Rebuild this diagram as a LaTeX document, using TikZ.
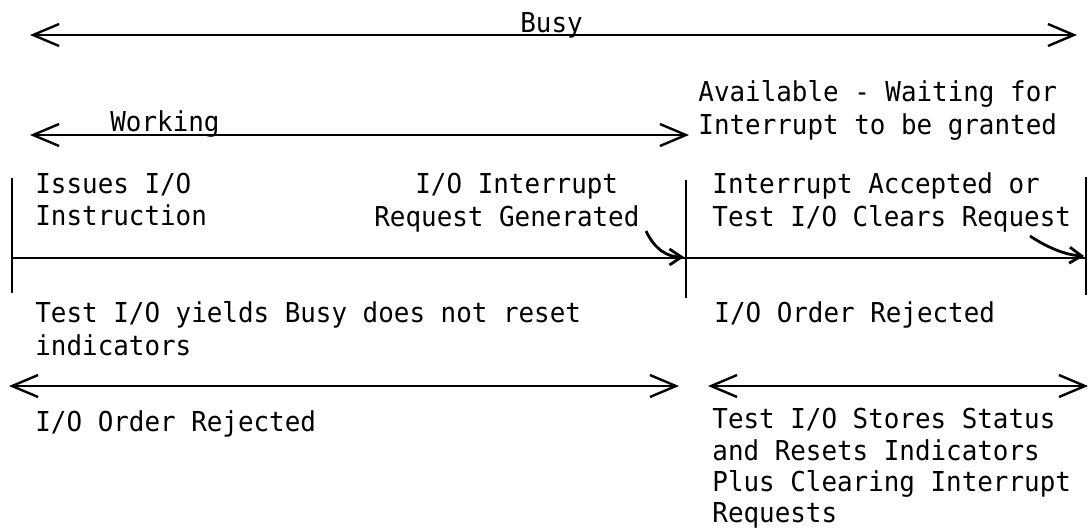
\documentclass[tikz,border=0pt]{standalone}
\usepackage{fontspec}
\usetikzlibrary{arrows.meta}
\newfontfamily\plotfont[FakeStretch=0.945]{DejaVu Sans Mono}
\tikzset{
  lbl/.style={anchor=base west, inner sep=0pt, font=\plotfont\fontsize{13.7pt}{16pt}\selectfont},
  ln/.style={line width=1.2pt},
  dbl/.style={line width=1.2pt, {Straight Barb[length=13pt,width=11pt,line width=1.2pt]}-{Straight Barb[length=13pt,width=11pt,line width=1.2pt]}},
  curv/.style={line width=1.4pt, -{Straight Barb[length=6pt,width=8pt,line width=1.4pt]}}
}
\begin{document}
\begin{tikzpicture}[x=0.5pt,y=-0.5pt]
\useasboundingbox (0,0) rectangle (1090,531);
% coordinates
\coordinate (busyL) at (30,35);
\coordinate (busyR) at (1077,35);
\coordinate (workL) at (30,135);
\coordinate (workR) at (689,135);
\coordinate (v1t) at (12,178);
\coordinate (v1b) at (12,293);
\coordinate (v2t) at (686,180);
\coordinate (v2b) at (686,298);
\coordinate (v3t) at (1086,177);
\coordinate (v3b) at (1086,295);
\coordinate (hL) at (12,258);
\coordinate (hR) at (1087,258);
\coordinate (c1s) at (646,231);
\coordinate (c1e) at (684,257);
\coordinate (c2s) at (1030,236);
\coordinate (c2e) at (1084,256);
\coordinate (bl1) at (9,386);
\coordinate (bl2) at (679,386);
\coordinate (br1) at (708,386);
\coordinate (br2) at (1088,386);
% lines
\draw[dbl] (busyL) -- (busyR);
\draw[dbl] (workL) -- (workR);
\draw[ln] (v1t) -- (v1b);
\draw[ln] (v2t) -- (v2b);
\draw[ln] (v3t) -- (v3b);
\draw[ln] (hL) -- (hR);
\draw[curv] (c1s) .. controls (655,250) and (668,257) .. (c1e);
\draw[curv] (c2s) .. controls (1048,248) and (1066,255) .. (c2e);
\draw[dbl] (bl1) -- (bl2);
\draw[dbl] (br1) -- (br2);
% texts
\node[lbl] (busy) at (520,32) {Busy};
\node[lbl] (working) at (110,131) {Working};
\node[lbl] (avail1) at (698,101) {Available - Waiting for};
\node[lbl] (avail2) at (698,134) {Interrupt to be granted};
\node[lbl] (iss1) at (35,193) {Issues I/O};
\node[lbl] (iss2) at (35,225) {Instruction};
\node[lbl] (req1) at (415,193) {I/O Interrupt};
\node[lbl] (req2) at (374,226) {Request Generated};
\node[lbl] (acc1) at (712,193) {Interrupt Accepted or};
\node[lbl] (acc2) at (712,226) {Test I/O Clears Request};
\node[lbl] (test1) at (35,322) {Test I/O yields Busy does not reset};
\node[lbl] (test2) at (35,355) {indicators};
\node[lbl] (rejR) at (714,322) {I/O Order Rejected};
\node[lbl] (rejL) at (35,431) {I/O Order Rejected};
\node[lbl] (st1) at (712,428) {Test I/O Stores Status};
\node[lbl] (st2) at (712,460) {and Resets Indicators};
\node[lbl] (st3) at (712,491) {Plus Clearing Interrupt};
\node[lbl] (st4) at (712,522) {Requests};
\end{tikzpicture}
\end{document}
